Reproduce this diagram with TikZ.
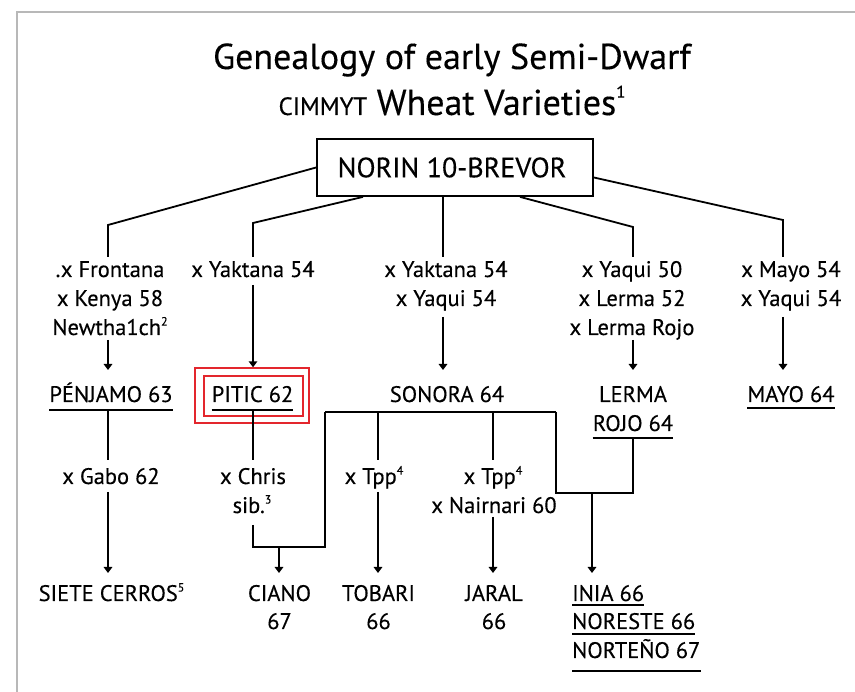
\documentclass[tikz,border=0pt]{standalone}
\usepackage{fontspec}
\setmainfont{PT Sans}[FakeBold=0.3]
\usetikzlibrary{arrows.meta}
\definecolor{framegray}{HTML}{B8B8B8}
\definecolor{boxred}{HTML}{E3262D}
\newcommand{\fnmark}[1]{\raisebox{0.42em}{\fontsize{12}{12}\selectfont #1}}
\begin{document}
\begin{tikzpicture}[x=1pt,y=-1pt,
  every node/.style={inner sep=0pt, anchor=base, font=\fontsize{22.5}{26}\selectfont},
  conn/.style={line width=1.8pt},
  arr/.style={line width=1.8pt, -{Triangle[length=6pt,width=8.5pt]}},
  ul/.style={line width=1.6pt},
  redbox/.style={draw=boxred, line width=1.4pt, anchor=center, minimum width=#1}]
\useasboundingbox (0,0) rectangle (855,692);
% frame
\draw[framegray, line width=1.6pt] (17,692) -- (17,12) -- (855,12);
% title
\node (title1) at (452,69) {\fontsize{36}{40}\selectfont Genealogy of early Semi-Dwarf};
\node (title2) at (452,115) {\fontsize{36}{40}\selectfont{\fontsize{25}{28}\selectfont CIMMYT} Wheat Varieties\raisebox{0.48em}{\fontsize{17}{17}\selectfont 1}};
% root
\node[draw, line width=1.8pt, anchor=center, minimum width=276pt, minimum height=57pt,
      font=\fontsize{28}{30}\selectfont] (norin) at (455,167.5) {NORIN 10-BREVOR\hspace*{6pt}};
% row 1
\node (p1a) at (110,277) {.x Frontana};
\node (p1b) at (110,306) {x Kenya 58};
\node (p1c) at (110,335) {Newtha1ch\fnmark{2}};
\node (p2) at (253,277) {x Yaktana 54};
\node (p3a) at (446,277) {x Yaktana 54};
\node (p3b) at (446,306) {x Yaqui 54};
\node (p4a) at (632,277) {x Yaqui 50};
\node (p4b) at (632,306) {x Lerma 52};
\node (p4c) at (632,335) {x Lerma Rojo};
\node (p5a) at (791,277) {x Mayo 54};
\node (p5b) at (791,306) {x Yaqui 54};
% row 2
\node (penjamo) at (111,402) {PÉNJAMO 63};
\node (pitic) at (252.5,402) {PITIC 62};
\node[redbox=114pt, minimum height=55pt] (piticbox) at (252,395.5) {};
\node[redbox=99pt, minimum height=40pt] (piticin) at (253.5,396) {};
\node (sonora) at (447,402) {SONORA 64};
\node (lerma) at (633,402) {LERMA};
\node (rojo) at (633,431) {ROJO 64};
\node (mayo) at (791,402) {MAYO 64};
% row 3
\node (gabo) at (111,484) {x Gabo 62};
\node (chrisa) at (253,484) {x Chris};
\node (chrisb) at (252,513) {sib.\fnmark{3}};
\node (tpp1) at (374,484) {x Tpp\fnmark{4}};
\node (tpp2a) at (493,484) {x Tpp\fnmark{4}};
\node (tpp2b) at (494,513) {x Nairnari 60};
% row 4
\node (siete) at (111.5,601) {SIETE CERROS\fnmark{5}};
\node (cianoa) at (279.5,601) {CIANO};
\node (cianob) at (279.5,629) {67};
\node (tobaria) at (378.5,601) {TOBARI};
\node (tobarib) at (378.5,629) {66};
\node (jarala) at (494,601) {JARAL};
\node (jaralb) at (494,629) {66};
\node[anchor=base west] (inia) at (572,601) {INIA 66};
\node[anchor=base west] (noreste) at (572,629) {NORESTE 66};
\node[anchor=base west] (norteno) at (572,658) {NORTEÑO 67};
% underlines
\draw[ul] ([yshift=-8pt]penjamo.base west) -- ([yshift=-8pt]penjamo.base east);
\draw[ul] ([yshift=-8pt]pitic.base west) -- ([yshift=-8pt]pitic.base east);
\draw[ul] ([yshift=-7pt]rojo.base west) -- ([yshift=-7pt]rojo.base east);
\draw[ul] ([yshift=-6pt]mayo.base west) -- ([yshift=-6pt]mayo.base east);
\draw[ul] ([yshift=-4pt]inia.base west) -- ([yshift=-4pt]inia.base east);
\draw[ul] ([yshift=-5pt]noreste.base west) -- ([yshift=-5pt]noreste.base east);
\draw[line width=2.4pt] ([yshift=-13pt]norteno.base west) -- ([yshift=-13pt]norteno.base east);
% level coordinates
\coordinate (b1) at (108,225);
\coordinate (b2) at (253,223);
\coordinate (b3) at (443,0);
\coordinate (b4) at (633,227);
\coordinate (b5) at (783,220);
\coordinate (yTop) at (0,257);
\coordinate (s1) at (0,340);
\coordinate (s2) at (0,285);
\coordinate (s3) at (0,317);
\coordinate (e2) at (0,370);
\coordinate (u2) at (0,410);
\coordinate (t3) at (0,460);
\coordinate (s4) at (0,492);
\coordinate (s5) at (0,517);
\coordinate (c5) at (0,525);
\coordinate (e4) at (0,573);
\coordinate (sL) at (325,412);
\coordinate (sR) at (556,412);
\coordinate (cj) at (279,547);
\coordinate (ij) at (592,493);
\coordinate (x3) at (378,0);
\coordinate (x4) at (493,0);
\coordinate (lr) at (633,438);
% top connectors
\draw[conn] (norin.west) -- (b1) -- (b1 |- yTop);
\draw[conn] ([xshift=-92pt]norin.south) -- (b2) -- (b2 |- yTop);
\draw[conn] (b3 |- norin.south) -- (b3 |- yTop);
\draw[conn] ([xshift=65pt]norin.south) -- (b4) -- (b4 |- yTop);
\draw[conn] ([yshift=-10pt]norin.east) -- (b5) -- (b5 |- yTop);
% row1 -> row2
\draw[arr] (b1 |- s1) -- (b1 |- e2);
\draw[arr] (b2 |- s2) -- (b2 |- piticbox.north);
\draw[arr] (b3 |- s3) -- (b3 |- e2);
\draw[arr] (b4 |- s1) -- (b4 |- e2);
\draw[arr] (b5 |- s3) -- (b5 |- e2);
% row2 -> row3
\draw[conn] (b1 |- u2) -- (b1 |- t3);
\draw[arr] (b1 |- s4) -- (b1 |- e4);
\draw[conn] (b2 |- u2) -- (b2 |- t3);
\draw[conn] (sL) -- (sR);
\draw[conn] (b2 |- c5) -- (b2 |- cj) -- (sL |- cj) -- (sL);
\draw[arr] (cj) -- (cj |- e4);
\draw[conn] (x3 |- sL) -- (x3 |- t3);
\draw[arr] (x3 |- s4) -- (x3 |- e4);
\draw[conn] (x4 |- sL) -- (x4 |- t3);
\draw[arr] (x4 |- s5) -- (x4 |- e4);
\draw[conn] (sR) -- (sR |- ij) -- (lr |- ij) -- (lr);
\draw[arr] (ij) -- (ij |- e4);
\end{tikzpicture}
\end{document}
